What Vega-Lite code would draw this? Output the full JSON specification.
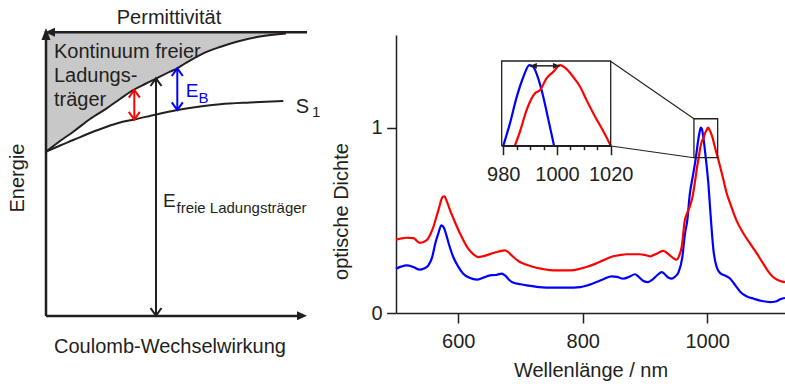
{
"$schema": "https://vega.github.io/schema/vega-lite/v6.json",
"width": 389,
"height": 278,
"autosize": {"type": "none"},
"padding": {"left": 396, "top": 35, "right": 0, "bottom": 71},
"background": "white",
"config": {
  "view": {"stroke": null},
  "font": "Liberation Sans",
  "axis": {"grid": false, "domainColor": "#231f20", "tickColor": "#231f20", "domainWidth": 1.5, "tickWidth": 1.5, "labelColor": "#231f20", "labelFont": "Liberation Sans", "labelFontSize": 20, "titleFont": "Liberation Sans", "titleFontSize": 20, "titleFontWeight": "normal", "titleColor": "#231f20"},
  "text": {"font": "Liberation Sans", "color": "#231f20"}
},
"datasets": {
  "spektren": [
    {"probe": "Probe 1", "nm": 500, "od": 0.239},
    {"probe": "Probe 1", "nm": 508, "od": 0.25},
    {"probe": "Probe 1", "nm": 517, "od": 0.257},
    {"probe": "Probe 1", "nm": 528, "od": 0.248},
    {"probe": "Probe 1", "nm": 538, "od": 0.234},
    {"probe": "Probe 1", "nm": 545, "od": 0.24},
    {"probe": "Probe 1", "nm": 552, "od": 0.257},
    {"probe": "Probe 1", "nm": 558, "od": 0.3},
    {"probe": "Probe 1", "nm": 563, "od": 0.374},
    {"probe": "Probe 1", "nm": 568, "od": 0.43},
    {"probe": "Probe 1", "nm": 573, "od": 0.473},
    {"probe": "Probe 1", "nm": 577, "od": 0.46},
    {"probe": "Probe 1", "nm": 581, "od": 0.419},
    {"probe": "Probe 1", "nm": 586, "od": 0.36},
    {"probe": "Probe 1", "nm": 592, "od": 0.302},
    {"probe": "Probe 1", "nm": 600, "od": 0.25},
    {"probe": "Probe 1", "nm": 608, "od": 0.212},
    {"probe": "Probe 1", "nm": 618, "od": 0.19},
    {"probe": "Probe 1", "nm": 630, "od": 0.18},
    {"probe": "Probe 1", "nm": 640, "od": 0.19},
    {"probe": "Probe 1", "nm": 651, "od": 0.203},
    {"probe": "Probe 1", "nm": 660, "od": 0.205},
    {"probe": "Probe 1", "nm": 670, "od": 0.212},
    {"probe": "Probe 1", "nm": 676, "od": 0.2},
    {"probe": "Probe 1", "nm": 682, "od": 0.178},
    {"probe": "Probe 1", "nm": 688, "od": 0.164},
    {"probe": "Probe 1", "nm": 700, "od": 0.155},
    {"probe": "Probe 1", "nm": 710, "od": 0.149},
    {"probe": "Probe 1", "nm": 730, "od": 0.14},
    {"probe": "Probe 1", "nm": 753, "od": 0.137},
    {"probe": "Probe 1", "nm": 775, "od": 0.137},
    {"probe": "Probe 1", "nm": 796, "od": 0.14},
    {"probe": "Probe 1", "nm": 810, "od": 0.152},
    {"probe": "Probe 1", "nm": 822, "od": 0.167},
    {"probe": "Probe 1", "nm": 835, "od": 0.185},
    {"probe": "Probe 1", "nm": 846, "od": 0.198},
    {"probe": "Probe 1", "nm": 855, "od": 0.195},
    {"probe": "Probe 1", "nm": 865, "od": 0.185},
    {"probe": "Probe 1", "nm": 875, "od": 0.196},
    {"probe": "Probe 1", "nm": 884, "od": 0.209},
    {"probe": "Probe 1", "nm": 890, "od": 0.195},
    {"probe": "Probe 1", "nm": 898, "od": 0.172},
    {"probe": "Probe 1", "nm": 905, "od": 0.167},
    {"probe": "Probe 1", "nm": 912, "od": 0.18},
    {"probe": "Probe 1", "nm": 920, "od": 0.205},
    {"probe": "Probe 1", "nm": 927, "od": 0.221},
    {"probe": "Probe 1", "nm": 933, "od": 0.205},
    {"probe": "Probe 1", "nm": 938, "od": 0.19},
    {"probe": "Probe 1", "nm": 943, "od": 0.185},
    {"probe": "Probe 1", "nm": 948, "od": 0.195},
    {"probe": "Probe 1", "nm": 954, "od": 0.221},
    {"probe": "Probe 1", "nm": 960, "od": 0.3},
    {"probe": "Probe 1", "nm": 964, "od": 0.42},
    {"probe": "Probe 1", "nm": 968, "od": 0.5},
    {"probe": "Probe 1", "nm": 972, "od": 0.64},
    {"probe": "Probe 1", "nm": 977, "od": 0.74},
    {"probe": "Probe 1", "nm": 980, "od": 0.8},
    {"probe": "Probe 1", "nm": 982.5, "od": 0.856},
    {"probe": "Probe 1", "nm": 985, "od": 0.921},
    {"probe": "Probe 1", "nm": 987.5, "od": 0.971},
    {"probe": "Probe 1", "nm": 989.7, "od": 1.0},
    {"probe": "Probe 1", "nm": 991.2, "od": 0.995},
    {"probe": "Probe 1", "nm": 993, "od": 0.967},
    {"probe": "Probe 1", "nm": 994.9, "od": 0.921},
    {"probe": "Probe 1", "nm": 996.8, "od": 0.864},
    {"probe": "Probe 1", "nm": 998.9, "od": 0.8},
    {"probe": "Probe 1", "nm": 1001.8, "od": 0.7},
    {"probe": "Probe 1", "nm": 1005, "od": 0.55},
    {"probe": "Probe 1", "nm": 1010, "od": 0.34},
    {"probe": "Probe 1", "nm": 1015, "od": 0.25},
    {"probe": "Probe 1", "nm": 1021, "od": 0.215},
    {"probe": "Probe 1", "nm": 1030, "od": 0.2},
    {"probe": "Probe 1", "nm": 1037, "od": 0.185},
    {"probe": "Probe 1", "nm": 1045, "od": 0.15},
    {"probe": "Probe 1", "nm": 1053, "od": 0.115},
    {"probe": "Probe 1", "nm": 1063, "od": 0.09},
    {"probe": "Probe 1", "nm": 1075, "od": 0.077},
    {"probe": "Probe 1", "nm": 1088, "od": 0.065},
    {"probe": "Probe 1", "nm": 1101, "od": 0.059},
    {"probe": "Probe 1", "nm": 1110, "od": 0.062},
    {"probe": "Probe 1", "nm": 1118, "od": 0.075},
    {"probe": "Probe 1", "nm": 1125, "od": 0.081},
    {"probe": "Probe 2", "nm": 500, "od": 0.396},
    {"probe": "Probe 2", "nm": 508, "od": 0.402},
    {"probe": "Probe 2", "nm": 517, "od": 0.406},
    {"probe": "Probe 2", "nm": 528, "od": 0.404},
    {"probe": "Probe 2", "nm": 538, "od": 0.378},
    {"probe": "Probe 2", "nm": 549, "od": 0.392},
    {"probe": "Probe 2", "nm": 556, "od": 0.43},
    {"probe": "Probe 2", "nm": 560, "od": 0.464},
    {"probe": "Probe 2", "nm": 568, "od": 0.554},
    {"probe": "Probe 2", "nm": 575, "od": 0.626},
    {"probe": "Probe 2", "nm": 578, "od": 0.63},
    {"probe": "Probe 2", "nm": 581, "od": 0.608},
    {"probe": "Probe 2", "nm": 589, "od": 0.536},
    {"probe": "Probe 2", "nm": 596, "od": 0.48},
    {"probe": "Probe 2", "nm": 603, "od": 0.428},
    {"probe": "Probe 2", "nm": 616, "od": 0.347},
    {"probe": "Probe 2", "nm": 625, "od": 0.315},
    {"probe": "Probe 2", "nm": 632, "od": 0.302},
    {"probe": "Probe 2", "nm": 638, "od": 0.305},
    {"probe": "Probe 2", "nm": 645, "od": 0.311},
    {"probe": "Probe 2", "nm": 656, "od": 0.324},
    {"probe": "Probe 2", "nm": 665, "od": 0.332},
    {"probe": "Probe 2", "nm": 675, "od": 0.338},
    {"probe": "Probe 2", "nm": 680, "od": 0.33},
    {"probe": "Probe 2", "nm": 686, "od": 0.31},
    {"probe": "Probe 2", "nm": 699, "od": 0.275},
    {"probe": "Probe 2", "nm": 710, "od": 0.26},
    {"probe": "Probe 2", "nm": 721, "od": 0.248},
    {"probe": "Probe 2", "nm": 735, "od": 0.238},
    {"probe": "Probe 2", "nm": 753, "od": 0.23},
    {"probe": "Probe 2", "nm": 765, "od": 0.23},
    {"probe": "Probe 2", "nm": 780, "od": 0.23},
    {"probe": "Probe 2", "nm": 795, "od": 0.238},
    {"probe": "Probe 2", "nm": 806, "od": 0.248},
    {"probe": "Probe 2", "nm": 820, "od": 0.265},
    {"probe": "Probe 2", "nm": 833, "od": 0.284},
    {"probe": "Probe 2", "nm": 849, "od": 0.306},
    {"probe": "Probe 2", "nm": 860, "od": 0.313},
    {"probe": "Probe 2", "nm": 871, "od": 0.317},
    {"probe": "Probe 2", "nm": 892, "od": 0.317},
    {"probe": "Probe 2", "nm": 900, "od": 0.313},
    {"probe": "Probe 2", "nm": 908, "od": 0.306},
    {"probe": "Probe 2", "nm": 918, "od": 0.318},
    {"probe": "Probe 2", "nm": 929, "od": 0.335},
    {"probe": "Probe 2", "nm": 935, "od": 0.325},
    {"probe": "Probe 2", "nm": 940, "od": 0.311},
    {"probe": "Probe 2", "nm": 946, "od": 0.295},
    {"probe": "Probe 2", "nm": 951, "od": 0.288},
    {"probe": "Probe 2", "nm": 955, "od": 0.31},
    {"probe": "Probe 2", "nm": 959, "od": 0.356},
    {"probe": "Probe 2", "nm": 964, "od": 0.5},
    {"probe": "Probe 2", "nm": 968, "od": 0.54},
    {"probe": "Probe 2", "nm": 972, "od": 0.574},
    {"probe": "Probe 2", "nm": 976, "od": 0.62},
    {"probe": "Probe 2", "nm": 980, "od": 0.7},
    {"probe": "Probe 2", "nm": 984.3, "od": 0.8},
    {"probe": "Probe 2", "nm": 986.2, "od": 0.835},
    {"probe": "Probe 2", "nm": 988.7, "od": 0.889},
    {"probe": "Probe 2", "nm": 991.8, "od": 0.93},
    {"probe": "Probe 2", "nm": 993.7, "od": 0.938},
    {"probe": "Probe 2", "nm": 996.1, "od": 0.967},
    {"probe": "Probe 2", "nm": 998.6, "od": 0.983},
    {"probe": "Probe 2", "nm": 1001.1, "od": 1.0},
    {"probe": "Probe 2", "nm": 1003.6, "od": 0.99},
    {"probe": "Probe 2", "nm": 1006, "od": 0.971},
    {"probe": "Probe 2", "nm": 1008.6, "od": 0.946},
    {"probe": "Probe 2", "nm": 1011, "od": 0.913},
    {"probe": "Probe 2", "nm": 1014.2, "od": 0.872},
    {"probe": "Probe 2", "nm": 1017.3, "od": 0.835},
    {"probe": "Probe 2", "nm": 1020, "od": 0.8},
    {"probe": "Probe 2", "nm": 1026, "od": 0.72},
    {"probe": "Probe 2", "nm": 1031, "od": 0.65},
    {"probe": "Probe 2", "nm": 1037, "od": 0.59},
    {"probe": "Probe 2", "nm": 1047, "od": 0.5},
    {"probe": "Probe 2", "nm": 1058, "od": 0.43},
    {"probe": "Probe 2", "nm": 1069, "od": 0.374},
    {"probe": "Probe 2", "nm": 1080, "od": 0.32},
    {"probe": "Probe 2", "nm": 1090, "od": 0.266},
    {"probe": "Probe 2", "nm": 1098, "od": 0.225},
    {"probe": "Probe 2", "nm": 1106, "od": 0.194},
    {"probe": "Probe 2", "nm": 1115, "od": 0.175},
    {"probe": "Probe 2", "nm": 1125, "od": 0.167}
  ],
  "kurven": [
    {"kurve": "Kontinuum", "x": 0, "y": 164.3},
    {"kurve": "Kontinuum", "x": 14, "y": 175},
    {"kurve": "Kontinuum", "x": 27.3, "y": 184.3},
    {"kurve": "Kontinuum", "x": 44, "y": 197},
    {"kurve": "Kontinuum", "x": 60.7, "y": 207.7},
    {"kurve": "Kontinuum", "x": 74, "y": 217},
    {"kurve": "Kontinuum", "x": 87.3, "y": 226},
    {"kurve": "Kontinuum", "x": 99, "y": 232},
    {"kurve": "Kontinuum", "x": 110.7, "y": 237.7},
    {"kurve": "Kontinuum", "x": 124, "y": 244.3},
    {"kurve": "Kontinuum", "x": 131.3, "y": 247.7},
    {"kurve": "Kontinuum", "x": 139, "y": 252.5},
    {"kurve": "Kontinuum", "x": 157.3, "y": 262.7},
    {"kurve": "Kontinuum", "x": 174, "y": 269},
    {"kurve": "Kontinuum", "x": 190.7, "y": 274.3},
    {"kurve": "Kontinuum", "x": 214, "y": 279.5},
    {"kurve": "Kontinuum", "x": 240, "y": 282.5},
    {"kurve": "S1", "x": 0, "y": 164.3},
    {"kurve": "S1", "x": 14, "y": 170.5},
    {"kurve": "S1", "x": 27.3, "y": 176},
    {"kurve": "S1", "x": 44, "y": 183},
    {"kurve": "S1", "x": 60.7, "y": 189.3},
    {"kurve": "S1", "x": 74, "y": 193.5},
    {"kurve": "S1", "x": 88.3, "y": 196.5},
    {"kurve": "S1", "x": 110, "y": 201.5},
    {"kurve": "S1", "x": 131.3, "y": 206},
    {"kurve": "S1", "x": 154, "y": 209.5},
    {"kurve": "S1", "x": 174, "y": 211.7},
    {"kurve": "S1", "x": 204, "y": 213.5},
    {"kurve": "S1", "x": 237.3, "y": 215}
  ],
  "pfeile": [
    {"name": "Rot", "x": 88.3, "y": 196.5, "y2": 226},
    {"name": "E_B", "x": 131.3, "y": 206, "y2": 247.7},
    {"name": "E_frei", "x": 110, "y": 0.3, "y2": 237.7}
  ]
},
"layer": [
  {
    "layer": [
      {
        "data": {"name": "spektren"},
        "mark": {"type": "line", "strokeWidth": 2.2, "interpolate": "monotone"},
        "encoding": {
          "x": {"field": "nm", "type": "quantitative", "scale": {"domain": [500, 1125], "nice": false, "zero": false},
                "axis": {"values": [600, 800, 1000], "format": "d", "title": "Wellenlänge / nm", "tickSize": 10, "labelPadding": 24.3, "labelBaseline": "alphabetic", "titleY": 63.7, "titleBaseline": "alphabetic"}},
          "y": {"field": "od", "type": "quantitative", "scale": {"domain": [0, 1.5], "nice": false, "zero": false},
                "axis": {"values": [0, 1], "format": "d", "title": "optische Dichte", "tickSize": 9.3, "labelPadding": 4.7, "titleX": -48.4, "titleY": 176, "titleBaseline": "alphabetic", "titleAlign": "center"}},
          "color": {"field": "probe", "type": "nominal", "scale": {"domain": ["Probe 1", "Probe 2"], "range": ["#0000ff", "#ff0000"]}, "legend": null}
        }
      },
      {
        "data": {"values": [{"bereich": "Ausschnitt", "nm_min": 978.7, "nm_max": 1016.8, "od_min": 0.838, "od_max": 1.048}]},
        "mark": {"type": "rect", "filled": false, "stroke": "#231f20", "strokeWidth": 1.3},
        "encoding": {
          "x": {"field": "nm_min", "type": "quantitative"},
          "x2": {"field": "nm_max"},
          "y": {"field": "od_min", "type": "quantitative"},
          "y2": {"field": "od_max"}
        }
      },
      {
        "data": {"values": [
          {"linie": "oben", "x": 845.4, "y": 1.357, "x2": 978.7, "y2": 1.048},
          {"linie": "unten", "x": 845.4, "y": 0.901, "x2": 978.7, "y2": 0.838}
        ]},
        "mark": {"type": "rule", "stroke": "#231f20", "strokeWidth": 1.1},
        "encoding": {
          "x": {"field": "x", "type": "quantitative"},
          "x2": {"field": "x2"},
          "y": {"field": "y", "type": "quantitative"},
          "y2": {"field": "y2"}
        }
      }
    ]
  },
  {
    "layer": [
      {
        "data": {"name": "spektren"},
        "transform": [{"filter": "datum.nm >= 979.4 && datum.nm <= 1020 && datum.od >= 0.8"}],
        "mark": {"type": "line", "strokeWidth": 2.2, "interpolate": "monotone"},
        "encoding": {
          "x": {"field": "nm", "type": "quantitative", "scale": {"domain": [979.4, 1020], "range": [105.7, 214.7], "nice": false, "zero": false},
                "axis": {"orient": "bottom", "offset": -167.3, "values": [980, 985, 990, 995, 1000, 1005, 1010, 1015, 1020], "format": "d", "labelExpr": "datum.value % 20 === 0 ? datum.label : ''", "tickSize": {"condition": {"test": "datum.value % 20 === 0", "value": 9}, "value": 4}, "labelPadding": 25.3, "labelBaseline": "alphabetic", "title": null, "labelFlush": false, "labelOverlap": false}},
          "y": {"field": "od", "type": "quantitative", "scale": {"domain": [0.8, 1.01], "range": [110.7, 26], "nice": false, "zero": false}, "axis": null},
          "color": {"field": "probe", "type": "nominal", "scale": {"domain": ["Probe 1", "Probe 2"], "range": ["#0000ff", "#ff0000"]}, "legend": null}
        }
      },
      {
        "data": {"values": [{"bereich": "Vergrößerung", "nm_min": 979.4, "nm_max": 1020, "od_min": 0.8, "od_max": 1.01}]},
        "mark": {"type": "rect", "filled": false, "stroke": "#231f20", "strokeWidth": 1.3},
        "encoding": {
          "x": {"field": "nm_min", "type": "quantitative"},
          "x2": {"field": "nm_max"},
          "y": {"field": "od_min", "type": "quantitative"},
          "y2": {"field": "od_max"}
        }
      },
      {
        "data": {"values": [{"pfeil": "Verschiebung", "von": 989.9, "bis": 1001.1, "od": 0.998}]},
        "mark": {"type": "rule", "stroke": "#231f20", "strokeWidth": 1.5},
        "encoding": {
          "x": {"field": "von", "type": "quantitative"},
          "x2": {"field": "bis"},
          "y": {"field": "od", "type": "quantitative"}
        }
      },
      {
        "data": {"values": [{"pfeil": "Verschiebung", "von": 989.9, "bis": 1001.1, "od": 0.998}]},
        "mark": {"type": "point", "shape": "M0,0L2,-0.8L2,0.8Z", "filled": true, "size": 49, "color": "#231f20", "opacity": 1, "strokeWidth": 0},
        "encoding": {
          "x": {"field": "von", "type": "quantitative"},
          "y": {"field": "od", "type": "quantitative"}
        }
      },
      {
        "data": {"values": [{"pfeil": "Verschiebung", "von": 989.9, "bis": 1001.1, "od": 0.998}]},
        "mark": {"type": "point", "shape": "M0,0L-2,-0.8L-2,0.8Z", "filled": true, "size": 49, "color": "#231f20", "opacity": 1, "strokeWidth": 0},
        "encoding": {
          "x": {"field": "bis", "type": "quantitative"},
          "y": {"field": "od", "type": "quantitative"}
        }
      }
    ]
  },
  {
    "encoding": {
      "x": {"field": "x", "type": "quantitative", "scale": {"domain": [0, 261], "range": [-350, -89], "nice": false, "zero": false}, "axis": null},
      "y": {"field": "y", "type": "quantitative", "scale": {"domain": [0, 290], "range": [281, -9], "nice": false, "zero": false}, "axis": null}
    },
    "layer": [
      {
        "data": {"name": "kurven"},
        "transform": [{"filter": "datum.kurve === 'Kontinuum'"}],
        "mark": {"type": "area", "fill": "#c8c8c8", "interpolate": "monotone"},
        "encoding": {"y2": {"datum": 283.7}}
      },
      {
        "data": {"name": "kurven"},
        "mark": {"type": "line", "stroke": "#231f20", "strokeWidth": 2, "interpolate": "monotone"},
        "encoding": {"detail": {"field": "kurve"}}
      },
      {
        "data": {"values": [
          {"achse": "Energie", "x": 0, "y": 0, "x2": 0, "y2": 285},
          {"achse": "Coulomb-Wechselwirkung", "x": 0, "y": 0, "x2": 255, "y2": 0},
          {"achse": "Permittivität", "x": 3, "y": 283.7, "x2": 261, "y2": 283.7}
        ]},
        "mark": {"type": "rule", "stroke": "#231f20", "strokeWidth": 2.5},
        "encoding": {"x2": {"field": "x2"}, "y2": {"field": "y2"}}
      },
      {
        "data": {"values": [
          {"achse": "Energie", "richtung": "oben", "x": 0, "y": 288},
          {"achse": "Permittivität", "richtung": "links", "x": -1, "y": 283.7},
          {"achse": "Coulomb-Wechselwirkung", "richtung": "rechts", "x": 261, "y": 0.3}
        ]},
        "mark": {"type": "point", "filled": true, "size": 100, "color": "#231f20", "opacity": 1, "strokeWidth": 0},
        "encoding": {
          "shape": {"field": "richtung", "type": "nominal", "scale": {"domain": ["oben", "links", "rechts"], "range": ["M0,0L-0.9,2.4L0.9,2.4Z", "M0,0L2,-0.9L2,0.9Z", "M0,0L-2,-0.9L-2,0.9Z"]}, "legend": null}
        }
      },
      {
        "data": {"name": "pfeile"},
        "mark": {"type": "rule", "strokeWidth": 2},
        "encoding": {
          "y2": {"field": "y2"},
          "color": {"field": "name", "type": "nominal", "scale": {"domain": ["Rot", "E_B", "E_frei"], "range": ["#ff0000", "#0000ff", "#231f20"]}, "legend": null}
        }
      },
      {
        "data": {"name": "pfeile"},
        "mark": {"type": "point", "shape": "M-1,1.4L0,0L1,1.4", "filled": false, "size": 121, "strokeWidth": 2, "opacity": 1},
        "encoding": {
          "y": {"field": "y2", "type": "quantitative"},
          "color": {"field": "name", "type": "nominal", "scale": {"domain": ["Rot", "E_B", "E_frei"], "range": ["#ff0000", "#0000ff", "#231f20"]}, "legend": null}
        }
      },
      {
        "data": {"name": "pfeile"},
        "mark": {"type": "point", "shape": "M-1,-1.4L0,0L1,-1.4", "filled": false, "size": 121, "strokeWidth": 2, "opacity": 1},
        "encoding": {
          "color": {"field": "name", "type": "nominal", "scale": {"domain": ["Rot", "E_B", "E_frei"], "range": ["#ff0000", "#0000ff", "#231f20"]}, "legend": null}
        }
      },
      {
        "data": {"values": [
          {"text": "Permittivität", "x": 123, "y": 292},
          {"text": "Coulomb-Wechselwirkung", "x": 124, "y": -36.7}
        ]},
        "mark": {"type": "text", "align": "center", "baseline": "alphabetic", "fontSize": 20},
        "encoding": {"text": {"field": "text"}}
      },
      {
        "data": {"values": [{"text": "Energie", "x": -22, "y": 138}]},
        "mark": {"type": "text", "align": "center", "baseline": "alphabetic", "fontSize": 20, "angle": 270},
        "encoding": {"text": {"field": "text"}}
      },
      {
        "data": {"values": [
          {"text": "Kontinuum freier", "x": 8, "y": 257.7},
          {"text": "Ladungs-", "x": 8, "y": 233.7},
          {"text": "träger", "x": 8, "y": 209.7},
          {"text": "S", "x": 249.7, "y": 202.7}
        ]},
        "mark": {"type": "text", "align": "left", "baseline": "alphabetic", "fontSize": 20},
        "encoding": {"text": {"field": "text"}}
      },
      {
        "data": {"values": [{"text": "E", "x": 117, "y": 109.3}]},
        "mark": {"type": "text", "align": "left", "baseline": "alphabetic", "fontSize": 19},
        "encoding": {"text": {"field": "text"}}
      },
      {
        "data": {"values": [
          {"text": "freie Ladungsträger", "x": 130.5, "y": 102.7},
          {"text": "1", "x": 266, "y": 199.3}
        ]},
        "mark": {"type": "text", "align": "left", "baseline": "alphabetic", "fontSize": 15},
        "encoding": {"text": {"field": "text"}}
      },
      {
        "data": {"values": [{"text": "E", "x": 139.7, "y": 219.3}]},
        "mark": {"type": "text", "align": "left", "baseline": "alphabetic", "fontSize": 19, "color": "#0000ff"},
        "encoding": {"text": {"field": "text"}}
      },
      {
        "data": {"values": [{"text": "B", "x": 152.5, "y": 212.7}]},
        "mark": {"type": "text", "align": "left", "baseline": "alphabetic", "fontSize": 15, "color": "#0000ff"},
        "encoding": {"text": {"field": "text"}}
      }
    ]
  }
],
"resolve": {
  "scale": {"x": "independent", "y": "independent", "color": "independent", "shape": "independent"},
  "axis": {"x": "independent", "y": "independent"}
}
}
